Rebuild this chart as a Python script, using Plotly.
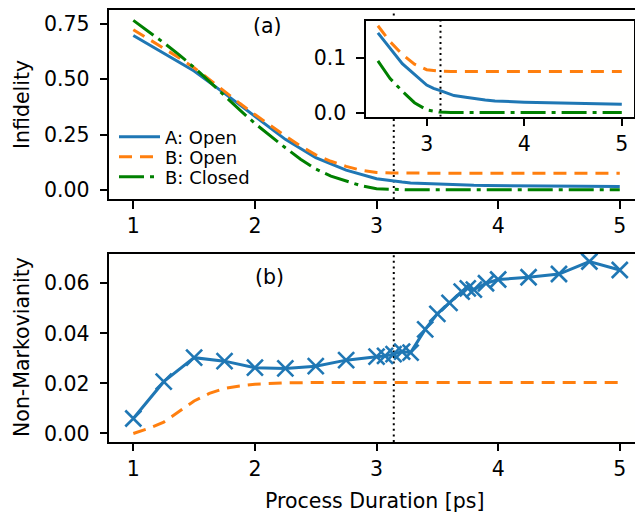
import numpy as np
import plotly.graph_objects as go

# ---------------- data ----------------
T_A = [1, 1.25, 1.5, 1.75, 2, 2.25, 2.5, 2.75, 3, 3.07, 3.14, 3.21, 3.28, 3.4, 3.5,
       3.6, 3.7, 3.75, 3.8, 3.9, 4, 4.25, 4.5, 4.75, 5]
INF_A_OPEN = [0.698, 0.618, 0.537, 0.436, 0.333, 0.228, 0.145, 0.089, 0.050, 0.044,
              0.040, 0.035, 0.031, 0.028, 0.025, 0.023, 0.021, 0.0205, 0.020, 0.0195,
              0.019, 0.018, 0.017, 0.016, 0.015]
NM_A_OPEN = [0.0060, 0.0207, 0.0303, 0.0289, 0.0263, 0.0260, 0.0269, 0.0293, 0.0307,
             0.0310, 0.0317, 0.0327, 0.0323, 0.0416, 0.0478, 0.0522, 0.0567, 0.0580,
             0.0575, 0.0600, 0.0615, 0.0624, 0.0637, 0.0687, 0.0653]

T_B = [1, 1.125, 1.25, 1.375, 1.5, 1.625, 1.75, 1.875, 2, 2.125, 2.25, 2.375, 2.5,
       2.625, 2.75, 2.875, 3.0, 3.125, 3.25, 3.5, 4, 4.5, 5]
INF_B_OPEN = [0.724, 0.683, 0.640, 0.597, 0.552, 0.499, 0.444, 0.391, 0.340, 0.290,
              0.243, 0.198, 0.158, 0.129, 0.106, 0.088, 0.078, 0.0755, 0.075, 0.075,
              0.075, 0.075, 0.075]
INF_B_CLOSED = [0.766, 0.717, 0.665, 0.611, 0.553, 0.490, 0.425, 0.361, 0.300, 0.243,
                0.190, 0.138, 0.094, 0.062, 0.039, 0.018, 0.005, 0.001, 0.0, 0.0,
                0.0, 0.0, 0.0]

T_NM_B = [1, 1.125, 1.25, 1.375, 1.5, 1.625, 1.75, 1.875, 2, 2.25, 2.5, 3, 3.5, 4, 4.5, 5]
NM_B_OPEN = [0.0, 0.002, 0.0045, 0.0087, 0.013, 0.016, 0.018, 0.019, 0.0197, 0.0202,
             0.0204, 0.0204, 0.0204, 0.0204, 0.0204, 0.0204]

T_MARK = np.pi      # vertical reference line
INSET_T0 = 2.5      # inset shows durations from here on

X_TICKS = [1, 2, 3, 4, 5]
INF_TICKS = [0.0, 0.25, 0.5, 0.75]
NM_TICKS = [0.0, 0.02, 0.04, 0.06]
INSET_X_TICKS = [3, 4, 5]
INSET_Y_TICKS = [0.0, 0.1]

# axis ranges
X_RANGE = [0.8, 5.191]
INF_RANGE = [-0.043, 0.813]
NM_RANGE = [-0.0034, 0.0717]
INSET_X_RANGE = [2.375, 5.125]
INSET_Y_RANGE = [-0.0075, 0.1667]

# ---------------- style ----------------
BLUE = "#1f77b4"
ORANGE = "#ff7f0e"
GREEN = "#008000"
FONT = "DejaVu Sans"
FS = 20.5
LW = 3
DASH_O = "13px,8px"
DASH_G = "25px,6px,4px,6px"
DOT = "2px,3.6px"

# page geometry (window pixels); the page body adds an 8px margin
OFF = 8
W, H = 643 - OFF, 512 - OFF
ML, MT, MB = 109 - OFF, 10 - OFF, 70
PW = W - ML
PH = H - MT - MB

TOP_PX = (10, 199.3)        # top panel, window px (top, bottom)
BOT_PX = (254, 442)
INSET_PX_X = (365.7, 634)
INSET_PX_Y = (21, 116.7)


def px_x(p):
    return (p - OFF - ML) / PW


def px_y(p):
    return (H - MB - (p - OFF)) / PH


def inf_at_px(p):
    """main-panel infidelity value at a given window pixel row"""
    frac = (TOP_PX[1] - p) / (TOP_PX[1] - TOP_PX[0])
    return INF_RANGE[0] + frac * (INF_RANGE[1] - INF_RANGE[0])


def from_t0(t, y):
    pairs = [(a, b) for a, b in zip(t, y) if a >= INSET_T0]
    return [a for a, _ in pairs], [b for _, b in pairs]


fig = go.Figure()

# top panel: reference line, interrupted where the inset sits
mark_y = [INF_RANGE[0], inf_at_px(INSET_PX_Y[1]), None, inf_at_px(INSET_PX_Y[0]), INF_RANGE[1]]
fig.add_trace(go.Scatter(x=[T_MARK] * 5, y=mark_y, mode="lines",
                         line=dict(color="black", width=2, dash=DOT),
                         showlegend=False, xaxis="x", yaxis="y", hoverinfo="skip"))
fig.add_trace(go.Scatter(x=T_A, y=INF_A_OPEN, mode="lines", name="A: Open",
                         line=dict(color=BLUE, width=LW), xaxis="x", yaxis="y",
                         legend="legend"))
fig.add_trace(go.Scatter(x=T_B, y=INF_B_OPEN, mode="lines", name="B: Open",
                         line=dict(color=ORANGE, width=LW, dash=DASH_O), xaxis="x",
                         yaxis="y", legend="legend2"))
fig.add_trace(go.Scatter(x=T_B, y=INF_B_CLOSED, mode="lines", name="B: Closed",
                         line=dict(color=GREEN, width=LW, dash=DASH_G), xaxis="x",
                         yaxis="y", legend="legend3"))

# bottom panel
fig.add_trace(go.Scatter(x=[T_MARK, T_MARK], y=NM_RANGE, mode="lines",
                         line=dict(color="black", width=2, dash=DOT),
                         showlegend=False, xaxis="x2", yaxis="y2", hoverinfo="skip"))
fig.add_trace(go.Scatter(x=T_A, y=NM_A_OPEN, mode="lines+markers",
                         line=dict(color=BLUE, width=LW),
                         marker=dict(symbol="x-thin", size=16, color=BLUE,
                                     line=dict(color=BLUE, width=2.6)),
                         showlegend=False, xaxis="x2", yaxis="y2"))
fig.add_trace(go.Scatter(x=T_NM_B, y=NM_B_OPEN, mode="lines",
                         line=dict(color=ORANGE, width=LW, dash=DASH_O),
                         showlegend=False, xaxis="x2", yaxis="y2"))

# inset
fig.add_trace(go.Scatter(x=[T_MARK, T_MARK], y=INSET_Y_RANGE, mode="lines",
                         line=dict(color="black", width=2, dash=DOT),
                         showlegend=False, xaxis="x3", yaxis="y3", hoverinfo="skip"))
ia_t, ia_y = from_t0(T_A, INF_A_OPEN)
ibo_t, ibo_y = from_t0(T_B, INF_B_OPEN)
ibc_t, ibc_y = from_t0(T_B, INF_B_CLOSED)
fig.add_trace(go.Scatter(x=ia_t, y=ia_y, mode="lines",
                         line=dict(color=BLUE, width=LW), showlegend=False,
                         xaxis="x3", yaxis="y3"))
fig.add_trace(go.Scatter(x=ibo_t, y=ibo_y, mode="lines",
                         line=dict(color=ORANGE, width=LW, dash=DASH_O), showlegend=False,
                         xaxis="x3", yaxis="y3"))
fig.add_trace(go.Scatter(x=ibc_t, y=ibc_y, mode="lines",
                         line=dict(color=GREEN, width=LW, dash=DASH_G), showlegend=False,
                         xaxis="x3", yaxis="y3"))

axis_common = dict(showgrid=False, zeroline=False, showline=True, linecolor="black",
                   linewidth=1.6, ticks="outside", ticklen=7.5, tickwidth=1.6,
                   tickcolor="black", tickfont=dict(family=FONT, size=FS, color="black"))
yaxis_extra = dict(ticklabelstandoff=6)


def legend_at(ycenter):
    return dict(x=px_x(114), y=px_y(ycenter), xanchor="left", yanchor="middle",
                bgcolor="rgba(0,0,0,0)", borderwidth=0, itemwidth=41,
                font=dict(family=FONT, size=18, color="black"))


fig.update_layout(
    width=W, height=H,
    margin=dict(l=ML, r=0, t=MT, b=MB),
    paper_bgcolor="white", plot_bgcolor="#fffffe",
    font=dict(family=FONT, size=FS, color="black"),
    xaxis=dict(domain=[0, 1], range=X_RANGE, tickvals=X_TICKS, anchor="y",
               mirror=True, **axis_common),
    yaxis=dict(domain=[px_y(TOP_PX[1]), px_y(TOP_PX[0])], range=INF_RANGE,
               tickvals=INF_TICKS, tickformat=".2f", anchor="x",
               **axis_common, **yaxis_extra),
    xaxis2=dict(domain=[0, 1], range=X_RANGE, tickvals=X_TICKS, anchor="y2",
                mirror=True, **axis_common),
    yaxis2=dict(domain=[px_y(BOT_PX[1]), px_y(BOT_PX[0])], range=NM_RANGE,
                tickvals=NM_TICKS, tickformat=".2f", anchor="x2",
                **axis_common, **yaxis_extra),
    xaxis3=dict(domain=[px_x(INSET_PX_X[0]), px_x(INSET_PX_X[1])], range=INSET_X_RANGE,
                tickvals=INSET_X_TICKS, anchor="y3", mirror=True, **axis_common),
    yaxis3=dict(domain=[px_y(INSET_PX_Y[1]), px_y(INSET_PX_Y[0])], range=INSET_Y_RANGE,
                tickvals=INSET_Y_TICKS, tickformat=".1f", anchor="x3", mirror=True,
                **axis_common, **yaxis_extra),
    legend=legend_at(137),
    legend2=legend_at(157),
    legend3=legend_at(177),
    annotations=[
        dict(text="(a)", x=2.106, y=0.741, xref="x", yref="y", showarrow=False,
             xanchor="center", yanchor="middle", font=dict(size=FS)),
        dict(text="(b)", x=2.12, y=0.0625, xref="x2", yref="y2", showarrow=False,
             xanchor="center", yanchor="middle", font=dict(size=FS)),
        dict(text="Infidelity", x=px_x(22), y=px_y(105), xref="paper", yref="paper",
             textangle=-90, showarrow=False, xanchor="center", yanchor="middle",
             font=dict(size=FS)),
        dict(text="Non-Markovianity", x=px_x(22), y=px_y(347), xref="paper",
             yref="paper", textangle=-90, showarrow=False, xanchor="center",
             yanchor="middle", font=dict(size=FS)),
        dict(text="Process Duration [ps]", x=px_x(375), y=px_y(501), xref="paper",
             yref="paper", showarrow=False, xanchor="center", yanchor="middle",
             font=dict(size=FS)),
    ],
)

fig.write_html("out.html")
